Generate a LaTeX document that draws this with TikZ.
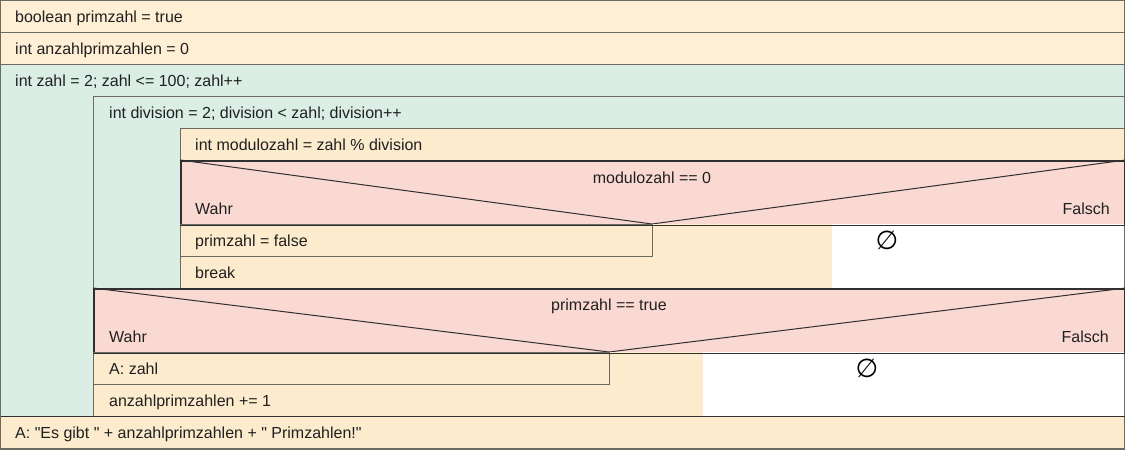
\documentclass[tikz,border=0pt]{standalone}
\usepackage{fontspec}
\setmainfont{Liberation Sans}[Ligatures=TeXOff]
\newfontfamily\symfont{DejaVu Sans}
\definecolor{creamA}{HTML}{FFEFD5}
\definecolor{cream}{HTML}{FCEBCD}
\definecolor{teal}{HTML}{DAEEE5}
\definecolor{rosy}{HTML}{FAD9D3}
\definecolor{bord}{HTML}{6B6B62}
\definecolor{dark}{HTML}{303030}
\definecolor{txt}{HTML}{202020}
\tikzset{
  blk/.style={draw=bord, line width=1pt, anchor=north west, inner sep=0pt, minimum height=32pt},
  fillonly/.style={anchor=north west, inner sep=0pt, minimum height=32pt},
  dec/.style={draw=dark, line width=1.6pt, fill=rosy, anchor=north west, inner sep=0pt, minimum height=64pt},
  lbl/.style={anchor=base west, inner sep=0pt, text=txt, font=\fontsize{16}{18}\selectfont},
  clbl/.style={anchor=base, inner sep=0pt, text=txt, font=\fontsize{16}{18}\selectfont},
  rlbl/.style={anchor=base east, inner sep=0pt, text=txt, font=\fontsize{16}{18}\selectfont},
  emptysym/.style={inner sep=0pt, font=\symfont\fontsize{26}{28}\selectfont},
  diag/.style={draw=dark, line width=1pt},
}
\begin{document}
\begin{tikzpicture}[x=1pt,y=-1pt]
\useasboundingbox (0,0) rectangle (1125,450);
% top statements
\node[blk, fill=creamA, minimum width=1124pt] (b1) at (0,0) {};
\node[lbl] (t1) at (15,22) {boolean primzahl = true};
\node[blk, fill=creamA, minimum width=1124pt] (b2) at (0,32) {};
\node[lbl] (t2) at (15,54) {int anzahlprimzahlen = 0};
% outer loop
\node[blk, fill=teal, minimum width=1124pt, minimum height=352pt] (l1) at (0,64) {};
\node[lbl] (t3) at (15,86) {int zahl = 2; zahl <= 100; zahl++};
% inner loop
\node[blk, fill=teal, minimum width=1031pt, minimum height=192pt] (l2) at (93,96) {};
\node[lbl] (t4) at (109,118) {int division = 2; division < zahl; division++};
% modulo assignment
\node[blk, fill=cream, minimum width=944pt] (b3) at (180,128) {};
\node[lbl] (t5) at (195,150) {int modulozahl = zahl \% division};
% decision 1
\node[dec, minimum width=944pt] (d1) at (180,160) {};
\coordinate (d1v) at (652,224);
\draw[diag] (d1.north west) -- (d1v) -- (d1.north east);
\node[clbl] (t6) at (652,183) {modulozahl == 0};
\node[lbl] (t7) at (195,214) {Wahr};
\node[rlbl] (t8) at (1110,214) {Falsch};
% branches of decision 1
\node[fillonly, fill=cream, minimum width=652pt, minimum height=64pt] (br1) at (180,224) {};
\node[fillonly, fill=white, minimum width=292pt, minimum height=64pt] (fb1) at (832,224) {};
\node[blk, fill=cream, minimum width=472pt] (b4) at (180,224) {};
\node[lbl] (t9) at (195,246) {primzahl = false};
\node[lbl] (t10) at (195,278) {break};
\draw[draw=bord, line width=1pt] (br1.north west) -- (br1.south west);
\node[emptysym] (e1) at (887,240) {∅};
\draw[draw=dark, line width=1.6pt] (d1.south west) -- (d1.south east);
% decision 2
\node[dec, minimum width=1031pt] (d2) at (93,288) {};
\coordinate (d2v) at (609,352);
\draw[diag] (d2.north west) -- (d2v) -- (d2.north east);
\node[clbl] (t11) at (609,310) {primzahl == true};
\node[lbl] (t12) at (109,342) {Wahr};
\node[rlbl] (t13) at (1109,342) {Falsch};
% branches of decision 2
\node[fillonly, fill=cream, minimum width=610pt, minimum height=64pt] (br2) at (93,352) {};
\node[fillonly, fill=white, minimum width=421pt, minimum height=64pt] (fb2) at (703,352) {};
\node[blk, fill=cream, minimum width=516pt] (b5) at (93,352) {};
\node[lbl] (t14) at (109,374) {A: zahl};
\node[lbl] (t15) at (109,406) {anzahlprimzahlen += 1};
\draw[draw=bord, line width=1pt] (br2.north west) -- (br2.south west);
\node[emptysym] (e2) at (867,368) {∅};
\draw[draw=dark, line width=1.6pt] (d2.south west) -- (d2.south east);
% final output
\node[blk, fill=cream, minimum width=1124pt] (b6) at (0,416) {};
\draw[draw=dark, line width=1pt] (b6.north west) -- (b6.north east);
\node[lbl] (t16) at (15,438) {A: "Es gibt " + anzahlprimzahlen + " Primzahlen!"};
% outer frame
\draw[draw=bord, line width=1pt] (b1.north west) rectangle (b6.south east);
\draw[draw=dark, line width=1pt] (l2.north east) -- (b6.north east);
\end{tikzpicture}
\end{document}
